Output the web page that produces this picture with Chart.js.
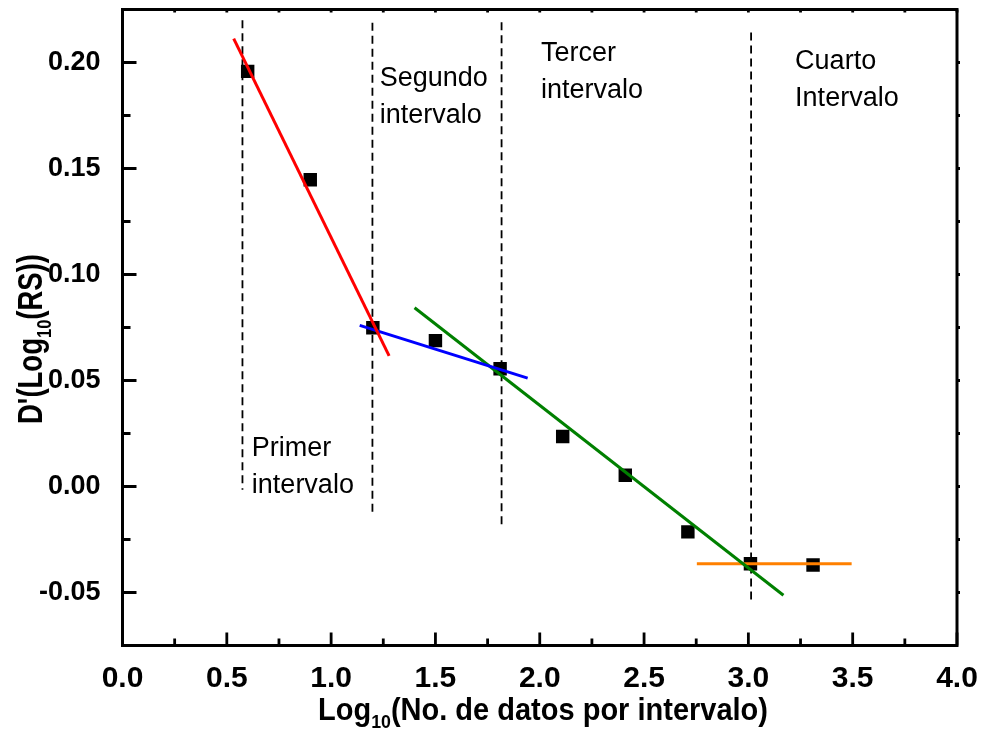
<!DOCTYPE html>
<html lang="es">
<head>
<meta charset="utf-8">
<title>D'(Log10(RS)) por intervalo</title>
<script src="https://cdn.jsdelivr.net/npm/chart.js@4.4.1/dist/chart.umd.min.js"></script>
<style>
  html, body { margin: 0; padding: 0; background: #fff; }
  canvas { display: block; }
</style>
</head>
<body>
<canvas id="chart" width="985" height="731"></canvas>
<script>
// Puntos medidos
const logN = [0.60, 0.90, 1.20, 1.50, 1.81, 2.11, 2.41, 2.71, 3.01, 3.31];
const dPrime = [0.1958, 0.1447, 0.0749, 0.0688, 0.0555, 0.0236, 0.0053, -0.0214, -0.0364, -0.0370];

// Rectas de ajuste (extremos) por intervalo
const fit1X = [0.533, 1.278];
const fit1Y = [0.2113, 0.0616];
const fit2X = [1.137, 1.942];
const fit2Y = [0.0760, 0.0511];
const fit3X = [1.400, 3.168];
const fit3Y = [0.0843, -0.0513];
const fit4X = [2.753, 3.495];
const fit4Y = [-0.0364, -0.0364];
const fitColors = ['#ff0000', '#0000ff', '#008000', '#ff8000'];

// Separadores verticales entre intervalos
const dividerX = [0.575, 1.198, 1.817, 3.013];
const dividerTop = [0.2199, 0.2188, 0.2190, 0.2141];
const dividerBottom = [-0.0015, -0.0120, -0.0180, -0.0539];

// Rotulos de los intervalos
const intervalNames = [['Primer', 'intervalo'], ['Segundo', 'intervalo'], ['Tercer', 'intervalo'], ['Cuarto', 'Intervalo']];
const nameX = [0.620, 1.233, 2.006, 3.224];
const nameY = [0.0142, 0.1890, 0.2008, 0.1969];

// Marcas de los ejes
const xTicks = [0.0, 0.5, 1.0, 1.5, 2.0, 2.5, 3.0, 3.5, 4.0];
const yTicks = [-0.05, 0.00, 0.05, 0.10, 0.15, 0.20];

const xTitle = [['Log', false], ['10', true], ['(No. de datos por intervalo)', false]];
const yTitle = [["D'(Log", false], ['10', true], ['(RS))', false]];

const FONT = '"Liberation Sans", Arial, sans-serif';

const pairs = (xs, ys) => xs.map((v, i) => ({ x: v, y: ys[i] }));

const datasets = [];
[[fit1X, fit1Y], [fit2X, fit2Y], [fit3X, fit3Y], [fit4X, fit4Y]].forEach(([fx, fy], i) => {
    datasets.push({
        data: pairs(fx, fy),
        showLine: true,
        borderColor: fitColors[i],
        borderWidth: 3,
        pointRadius: 0,
        order: 1
    });
});
dividerX.forEach((v, i) => {
    datasets.push({
        data: [{ x: v, y: dividerTop[i] }, { x: v, y: dividerBottom[i] }],
        showLine: true,
        borderColor: '#000',
        borderWidth: 1.8,
        borderDash: [8, 5],
        pointRadius: 0,
        order: 2
    });
});
datasets.push({
    data: pairs(logN, dPrime),
    pointStyle: 'rect',
    pointRadius: 9.5,
    backgroundColor: '#000',
    borderWidth: 0,
    order: 3
});

// texto con subindice, estrechado hasta el ancho pedido
function drawParts(ctx, parts, cx, baseY, size, width) {
    const subSize = Math.round(size * 0.6);
    const subDrop = Math.round(size * 0.27);
    let total = 0;
    parts.forEach(([t, sub]) => {
        ctx.font = `bold ${sub ? subSize : size}px ${FONT}`;
        total += ctx.measureText(t).width;
    });
    ctx.save();
    ctx.translate(cx, baseY);
    ctx.scale(width / total, 1);
    let x = -total / 2;
    parts.forEach(([t, sub]) => {
        ctx.font = `bold ${sub ? subSize : size}px ${FONT}`;
        ctx.fillText(t, x, sub ? subDrop : 0);
        x += ctx.measureText(t).width;
    });
    ctx.restore();
}

const framePlugin = {
    id: 'frame',
    afterDatasetsDraw(chart) {
        const { ctx, scales: { x, y } } = chart;
        ctx.save();
        ctx.fillStyle = '#000';
        ctx.font = `27px ${FONT}`;
        ctx.textAlign = 'left';
        ctx.textBaseline = 'alphabetic';
        intervalNames.forEach((lines, i) => {
            const px = x.getPixelForValue(nameX[i]);
            const py = y.getPixelForValue(nameY[i]);
            lines.forEach((line, j) => ctx.fillText(line, px, py + j * 37));
        });
        ctx.restore();
    },
    afterDraw(chart) {
        const { ctx, chartArea: a, scales: { x, y } } = chart;
        ctx.save();
        ctx.setLineDash([]);
        ctx.strokeStyle = '#000';
        ctx.lineWidth = 3;
        ctx.strokeRect(a.left, a.top, a.right - a.left, a.bottom - a.top);

        // marcas hacia dentro
        ctx.beginPath();
        xTicks.forEach((v, i) => {
            const px = x.getPixelForValue(v);
            ctx.moveTo(px, a.bottom); ctx.lineTo(px, a.bottom - 13);
            ctx.moveTo(px, a.top); ctx.lineTo(px, a.top + 3);
            if (i < xTicks.length - 1) {
                const pm = x.getPixelForValue((v + xTicks[i + 1]) / 2);
                ctx.moveTo(pm, a.bottom); ctx.lineTo(pm, a.bottom - 7);
                ctx.moveTo(pm, a.top); ctx.lineTo(pm, a.top + 3);
            }
        });
        yTicks.forEach((v, i) => {
            const py = y.getPixelForValue(v);
            ctx.moveTo(a.left, py); ctx.lineTo(a.left + 14, py);
            ctx.moveTo(a.right, py); ctx.lineTo(a.right + 3, py);
            if (i < yTicks.length - 1) {
                const pm = y.getPixelForValue((v + yTicks[i + 1]) / 2);
                ctx.moveTo(a.left, pm); ctx.lineTo(a.left + 8, pm);
                ctx.moveTo(a.right, pm); ctx.lineTo(a.right + 3, pm);
            }
        });
        ctx.lineWidth = 2.8;
        ctx.stroke();

        // titulos de los ejes
        ctx.fillStyle = '#000';
        ctx.textAlign = 'left';
        ctx.textBaseline = 'alphabetic';
        drawParts(ctx, xTitle, 543, 720, 31, 450);
        ctx.translate(42, 339);
        ctx.rotate(-Math.PI / 2);
        drawParts(ctx, yTitle, 0, 0, 35, 170);
        ctx.restore();
    }
};

new Chart(document.getElementById('chart'), {
    type: 'scatter',
    data: { datasets },
    options: {
        responsive: false,
        animation: false,
        events: [],
        layout: { padding: { top: 9.5, right: 28, left: 0, bottom: 0 } },
        plugins: { legend: { display: false }, tooltip: { enabled: false } },
        scales: {
            x: {
                type: 'linear',
                min: 0,
                max: 4,
                grid: { display: false },
                border: { display: false },
                afterBuildTicks: s => { s.ticks = xTicks.map(v => ({ value: v })); },
                afterFit: s => { s.height = 85.5; s.paddingLeft = 0; s.paddingRight = 0; },
                ticks: {
                    padding: 7,
                    color: '#000',
                    autoSkip: false,
                    maxRotation: 0,
                    font: { family: FONT, size: 30, weight: 'bold' },
                    callback: v => v.toFixed(1)
                }
            },
            y: {
                type: 'linear',
                min: -0.075,
                max: 0.225,
                grid: { display: false },
                border: { display: false },
                afterBuildTicks: s => { s.ticks = yTicks.map(v => ({ value: v })); },
                afterFit: s => { s.width = 122.5; s.paddingTop = 0; s.paddingBottom = 0; },
                ticks: {
                    padding: 14,
                    color: '#000',
                    font: { family: FONT, size: 27, weight: 'bold' },
                    callback: v => v.toFixed(2)
                }
            }
        }
    },
    plugins: [framePlugin]
});
</script>
</body>
</html>
